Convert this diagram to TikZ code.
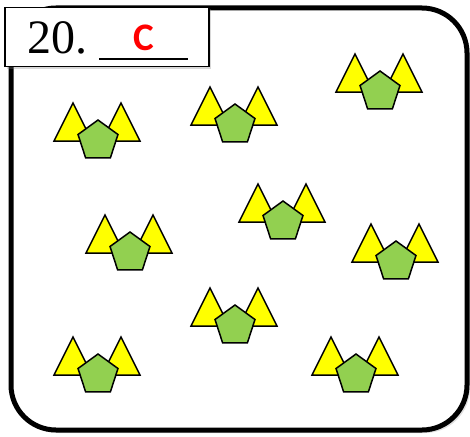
\documentclass[tikz,border=0pt]{standalone}
\usepackage{fontspec}
\setmainfont{Liberation Serif}
\newfontfamily\letterfont{Carlito}
\usetikzlibrary{shadows}
\definecolor{triyellow}{RGB}{255,255,0}
\definecolor{pentgreen}{RGB}{146,208,80}
\begin{document}
\begin{tikzpicture}[x = 1pt, y = -1pt,
		tri/.style = {fill = triyellow, draw = black, line width = 1.5pt, line join = miter},
		pent/.style = {fill = pentgreen, draw = black, line width = 1.5pt, line join = miter}]
		\useasboundingbox (0, 0) rectangle (470, 436);
		\draw [line width = 5pt, rounded corners = 45pt, fill = white,
			drop shadow = {opacity = .25, shadow xshift = 3pt, shadow yshift = -3pt}] (11, 8) rectangle (467, 430);
		\foreach \x/\y in {98/141, 235/125, 380/92, 283/222, 130/253, 396/262, 235/326, 98/375, 356/375}{
			\draw[tri] (\x - 44, \y) -- (\x - 25, \y - 38) -- (\x - 6, \y) -- cycle;
			\draw[tri] (\x + 4, \y) -- (\x + 23, \y - 38) -- (\x + 42, \y) -- cycle;
			\draw[pent] (\x, \y) +(-90:21) -- +(-18:21) -- +(54:21) -- +(126:21) -- +(198:21) -- cycle;}
		\node[draw = black, line width = 1.3pt, fill = white, minimum width = 204pt, minimum height = 59pt,
			drop shadow = {opacity = .3, shadow xshift = 2pt, shadow yshift = -2pt}] (label) at (107, 37) {};
		\node[anchor = base west, inner sep = 0pt, font = \fontsize{48}{48}\selectfont] (num) at (27, 53) {20.};
		\coordinate (blank l) at (99, 59);
		\coordinate (blank r) at (188, 59);
		\draw[line width = 2.8pt] (blank l) -- (blank r);
		\node[anchor = base, text = red, inner sep = 0pt, font = \letterfont\bfseries\fontsize{39}{39}\selectfont] (answer) at (143.5, 50) {C};
		\end{tikzpicture}
\end{document}
